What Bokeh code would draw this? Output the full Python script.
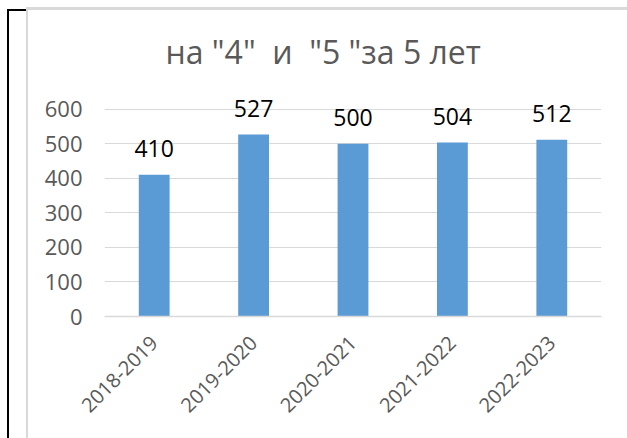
import math
from bokeh.plotting import figure
from bokeh.models import ColumnDataSource
from bokeh.core.properties import value
from bokeh.embed import file_html
from bokeh.resources import INLINE

categories = ["2018-2019", "2019-2020", "2020-2021", "2021-2022", "2022-2023"]
values = [410, 527, 500, 504, 512]
y_ticks = [0, 100, 200, 300, 400, 500, 600]
title_text = 'на "4" \u00a0и \u00a0"5 "за 5 лет'

FONT = "Open Sans"
W, H = 627, 438

src = ColumnDataSource(dict(cat=categories, val=values, lab=[str(v) for v in values]))

frame_css = """
:host { position: relative; }
:host::before {
  content: ""; position: absolute; left: 26px; top: 7px;
  width: 601px; height: 431px; box-sizing: border-box;
  border-top: 3px solid #d9d9d9; border-left: 2px solid #d9d9d9;
  z-index: 10; pointer-events: none;
}
:host::after {
  content: ""; position: absolute; left: 7px; top: 9px;
  width: 20px; height: 429px; box-sizing: border-box;
  border-top: 2px solid #000000; border-left: 2px solid #000000;
  z-index: 9; pointer-events: none;
}
"""

p = figure(x_range=categories, y_range=(0, 660), width=W, height=H,
           output_backend="svg", toolbar_location=None,
           min_border_left=104, min_border_right=26, min_border_top=88,
           min_border_bottom=122, stylesheets=[frame_css])
p.outline_line_color = None
p.background_fill_color = "white"
p.border_fill_color = "white"

p.title.text = title_text
p.title.text_font = FONT
p.title.text_font_size = "32px"
p.title.text_font_style = "normal"
p.title.text_color = "#595959"
p.title.align = "left"
p.title.offset = 61
p.title.standoff = 32

p.vbar(x="cat", top="val", width=0.31, source=src, color="#5b9bd5", line_color=None)
p.text(x="cat", y="val", text="lab", source=src, text_align="center",
       text_baseline="alphabetic", y_offset=-26, text_font=value(FONT),
       text_font_size="23px", text_color="#000000")

p.xgrid.grid_line_color = None
p.ygrid.grid_line_color = "#d9d9d9"
p.ygrid.grid_line_width = 1

p.yaxis.ticker = y_ticks
p.yaxis.axis_line_color = None
p.yaxis.major_tick_line_color = None
p.yaxis.minor_tick_line_color = None
p.yaxis.major_label_text_font = FONT
p.yaxis.major_label_text_font_size = "22px"
p.yaxis.major_label_text_color = "#595959"
p.yaxis.major_label_standoff = 16

p.xaxis.axis_line_color = "#d9d9d9"
p.xaxis.axis_line_width = 1.5
p.xaxis.major_tick_line_color = None
p.xaxis.minor_tick_line_color = None
p.xaxis.major_label_text_font = FONT
p.xaxis.major_label_text_font_size = "20px"
p.xaxis.major_label_text_color = "#595959"
p.xaxis.major_label_orientation = math.pi / 4
p.xaxis.major_label_standoff = 17

open("out.html", "w").write(file_html(p, INLINE))
